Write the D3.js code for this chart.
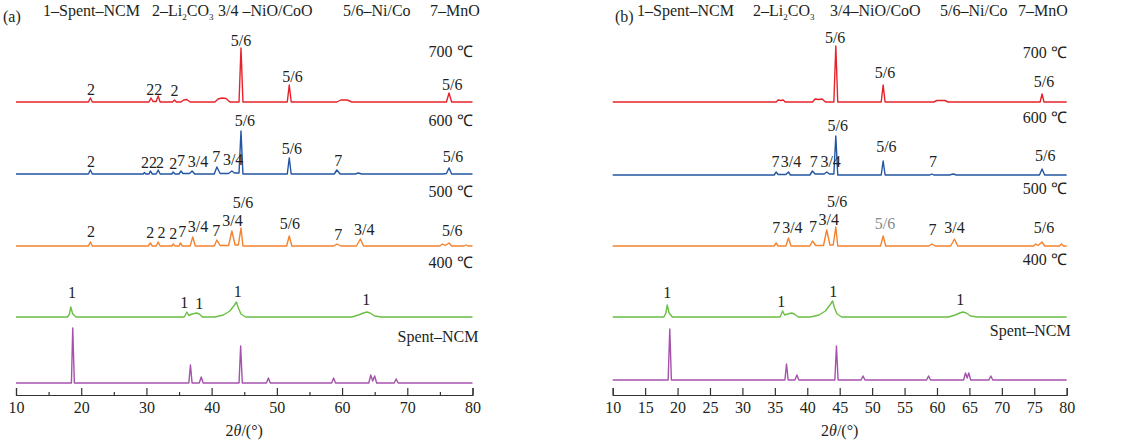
<!DOCTYPE html>
<html>
<head>
<meta charset="utf-8">
<script src="https://cdn.jsdelivr.net/npm/d3@7"></script>
<style>
  body { margin: 0; background: #fff; }
  text { font-family: "Liberation Serif", "Times New Roman", serif; fill: #231f20; }
</style>
</head>
<body>
<div id="chart"></div>
<script>
// XRD patterns, [2theta, intensity a.u.] vertices
var redA = [[10,0],[21.1,0],[21.4,4],[21.7,0],[30.4,0],[30.7,4],[31.0,0.5],[31.5,0.5],[31.8,6],[32.1,0],
  [34.0,0],[34.3,2],[34.6,0],[35.3,0],[35.7,2],[36.2,2.5],[36.7,0],[40.5,0],[41.0,3],[41.6,4],[42.2,3.5],[42.8,0],
  [44.2,0],[44.5,54],[44.8,0],[51.6,0],[51.9,17],[52.2,0],[59.2,0],[59.8,2],[60.8,2],[61.5,0],
  [76.0,0],[76.4,9],[76.8,0],[80,0]];
var blueA = [[10,0],[21.1,0],[21.4,4],[21.7,0],[29.5,0],[29.7,1.5],[29.9,0],[30.4,0],[30.6,3],[30.9,0],[31.5,0],[31.8,4],[32.1,0],
  [33.9,0],[34.1,2],[34.4,0],[35.0,0],[35.3,3],[35.6,0.5],[36.6,0.5],[37.0,3],[37.4,0],
  [40.4,0],[40.8,7],[41.3,0.5],[42.6,0.5],[43.1,3],[43.5,1],[44.2,1],[44.5,43],[44.8,0],
  [51.6,0],[51.9,16],[52.2,0],[58.8,0],[59.2,4],[59.7,0],[62.0,0],[62.5,1],[63.0,0],
  [75.5,0],[76.0,0.5],[76.4,6],[76.8,0],[80,0]];
var orangeA = [[10,0],[21.1,0],[21.4,4],[21.7,0],[30.3,0],[30.6,3],[30.9,0],[31.5,0],[31.8,4],[32.1,0],
  [33.9,0],[34.1,2],[34.4,0],[35.0,0],[35.2,3],[35.5,0],[36.7,0],[37.1,9],[37.5,0],
  [40.4,0],[40.8,6],[41.3,0.5],[42.6,0.5],[43.1,15],[43.6,1],[44.1,1],[44.5,18],[44.8,0],
  [51.5,0],[51.9,10],[52.3,0],[58.7,0],[59.2,2],[59.8,0],[62.2,0],[62.8,7],[63.3,0],
  [75.0,0],[75.4,2],[75.8,0.5],[76.4,3],[76.8,0],[78.7,0],[79.0,1],[79.3,0],[80,0]];
var greenA = [[10,0],[17.9,0],[18.2,3],[18.4,10],[18.7,3],[19.2,0],
  [35.8,0],[36.2,5],[36.5,1.5],[37.0,3],[37.7,4],[38.1,3],[38.6,0],
  [40.5,0],[41.8,2],[42.8,6],[43.5,12],[43.8,15],[44.1,9],[44.5,3],[45.2,0],
  [61.5,0],[62.5,2],[63.3,4],[63.8,5],[64.3,4],[65.0,1],[66,0],[80,0]];
var purpleA = [[10,0],[18.5,0],[18.7,55],[18.95,0],[36.5,0],[36.75,18],[37.0,0],[38.1,0],[38.4,6],[38.7,0],
  [44.2,0],[44.45,37],[44.7,0],[48.4,0],[48.7,5],[49.0,0],[58.4,0],[58.7,5],[59.0,0],
  [64.1,0],[64.4,8],[64.7,2],[65.0,7],[65.3,0],[68.0,0],[68.3,4],[68.6,0],[80,0]];

var redB = [[10,0],[35.2,0],[35.5,2],[35.9,1.5],[36.3,2],[36.6,0],[40.8,0],[41.2,3],[41.8,2.5],[42.3,3],[42.8,0],
  [44.1,0],[44.4,56],[44.7,0],[51.4,0],[51.7,17],[52.0,0],[59.5,0],[60.0,1.5],[61.2,1.5],[61.7,0],
  [75.9,0],[76.2,8],[76.5,0],[80,0]];
var blueB = [[10,0],[34.9,0],[35.2,3],[35.5,0.5],[36.7,0.5],[37.1,3],[37.4,0],
  [40.4,0],[40.8,4],[41.2,1],[42.6,1],[43.0,3],[43.4,1],[44.1,1],[44.4,39],[44.7,0],
  [51.4,0],[51.7,14],[52.0,0],[58.9,0],[59.2,1],[59.5,0],[61.9,0],[62.5,1],[63.0,0],
  [75.8,0],[76.2,6],[76.6,0],[80,0]];
var orangeB = [[10,0],[34.9,0],[35.2,3],[35.5,0],[36.7,0],[37.1,8],[37.5,0],
  [40.4,0],[40.8,5],[41.3,0.5],[42.5,0.5],[43.0,16],[43.5,1],[44.0,1],[44.4,19],[44.7,0],
  [51.3,0],[51.7,10],[52.1,0],[58.8,0],[59.2,2],[59.7,0],[62.1,0],[62.7,7],[63.2,0],
  [74.9,0],[75.2,2],[75.6,0.5],[76.2,4],[76.6,0],[78.9,0],[79.2,2],[79.5,0],[80,0]];
var greenB = [[10,0],[17.9,0],[18.2,4],[18.4,12],[18.7,4],[19.2,0],
  [35.8,0],[36.2,6],[36.5,2],[37.0,3],[37.6,4],[38.0,3],[38.6,0],
  [40.5,0],[41.8,2],[42.8,6],[43.6,13],[43.9,16],[44.2,9],[44.6,3],[45.3,0],
  [61.8,0],[62.8,2],[63.5,4],[64.0,5],[64.5,4],[65.2,1],[66.2,0],[80,0]];
var purpleB = [[10,0],[18.55,0],[18.8,51],[19.05,0],[36.55,0],[36.8,16],[37.05,0],[38.1,0],[38.4,5],[38.7,0],
  [44.25,0],[44.5,34],[44.75,0],[48.3,0],[48.6,4],[48.9,0],[58.4,0],[58.7,4],[59.0,0],
  [64.1,0],[64.4,7],[64.65,2],[64.9,7],[65.2,0],[68.0,0],[68.3,4],[68.6,0],[80,0]];

// peak labels: [2theta, label, height above the trace baseline]
var redLabelsA = [[21.5,"2",7],[30.6,"2",7],[31.8,"2",7],[34.3,"2",6],[44.5,"5/6",56],[52.4,"5/6",20],[76.9,"5/6",12]];
var blueLabelsA = [[21.5,"2",7],[29.8,"2",6],[31.0,"2",6],[32.1,"2",6],[34.1,"2",5],[35.3,"7",8],[37.9,"3/4",7],
  [40.7,"7",12],[43.3,"3/4",9],[45.1,"5/6",48],[52.3,"5/6",20],[59.4,"7",8],[77.0,"5/6",12]];
var orangeLabelsA = [[21.5,"2",9],[30.6,"2",8],[32.3,"2",8],[34.1,"2",7],[35.5,"7",9],[37.9,"3/4",14],[40.7,"7",10],
  [43.2,"3/4",20],[44.8,"5/6",38],[52.0,"5/6",17],[59.4,"7",6],[63.4,"3/4",11],[76.9,"5/6",10]];
var greenLabelsA = [[18.6,"1",19],[35.8,"1",9],[38.1,"1",8],[44.0,"1",20],[63.7,"1",12]];

var redLabelsB = [[44.3,"5/6",59],[52.0,"5/6",24],[76.5,"5/6",15]];
var blueLabelsB = [[35.1,"7",8],[37.5,"3/4",8],[41.0,"7",8],[43.6,"3/4",8],[44.7,"5/6",44],[52.2,"5/6",23],[59.4,"7",8],[76.7,"5/6",14]];
var orangeLabelsB = [[35.2,"7",13],[37.7,"3/4",13],[40.9,"7",14],[43.3,"3/4",21],[44.6,"5/6",39],[52.0,"5/6",17,"#8a8a8a"],
  [59.3,"7",11],[62.7,"3/4",13],[76.5,"5/6",13]];
var greenLabelsB = [[18.4,"1",19],[36.0,"1",10],[44.0,"1",20],[63.6,"1",12]];

var sampleNames = ["700 ℃", "600 ℃", "500 ℃", "400 ℃", "Spent–NCM"];
var legendItems = ["1–Spent–NCM", "2–Li2CO3", "3/4 –NiO/CoO", "5/6–Ni/Co", "7–MnO"];
var colors = ["#e8222b", "#2356a3", "#f5822f", "#6abf45", "#a552ad"];

var svgWidth = 1124, svgHeight = 444;
var axisY = 395;

var svg = d3.select("#chart").append("svg").attr("width", svgWidth).attr("height", svgHeight);

// 1 a.u. == 1 px, each trace is lifted by its offset
var y = d3.scaleLinear().domain([0, 360]).range([axisY, axisY - 360]);

function drawPanel(p) {
  var x = d3.scaleLinear().domain([10, 80]).range([p.x0, p.x1]);
  var g = svg.append("g");

  var line = d3.line().x(d => x(d[0]));

  p.series.forEach(function(s, i) {
    var off = p.offsets[i];
    g.append("path")
      .datum(s)
      .attr("fill", "none")
      .attr("stroke", colors[i])
      .attr("stroke-width", 1.4)
      .attr("stroke-linejoin", "round")
      .attr("d", line.y(d => y(d[1] + off)));
  });

  // peak labels
  p.labels.forEach(function(lab, i) {
    var off = p.offsets[i];
    g.selectAll(null).data(lab).enter().append("text")
      .attr("x", d => x(d[0]))
      .attr("y", d => y(off + d[2]))
      .attr("text-anchor", "middle")
      .attr("font-size", 16)
      .style("fill", d => d[3] || "#231f20")
      .text(d => d[1]);
  });

  // sample names on the right
  sampleNames.forEach(function(name, i) {
    g.append("text")
      .attr("x", x(80) + (i == 4 ? p.nameShift : 0))
      .attr("y", y(p.offsets[i] + p.nameH[i]))
      .attr("text-anchor", "end")
      .attr("font-size", 16)
      .text(name);
  });

  // x axis, ticks pointing up
  var axis = d3.axisBottom(x).tickValues(p.ticks).tickSizeInner(-7).tickSizeOuter(-7).tickPadding(7);
  var ax = g.append("g").attr("transform", `translate(0, ${axisY})`).call(axis);
  ax.selectAll("path, line").attr("stroke", "#333").attr("stroke-width", 1.2);
  ax.selectAll("text").attr("font-size", 16).attr("font-family", "Liberation Serif, serif").style("fill", "#231f20");
  if (p.minor) {
    var minorAxis = d3.axisBottom(x).tickValues(p.minor).tickSize(-3).tickFormat("");
    var mx = g.append("g").attr("transform", `translate(0, ${axisY})`).call(minorAxis);
    mx.select(".domain").remove();
    mx.selectAll("line").attr("stroke", "#333").attr("stroke-width", 1.2);
  }

  var title = g.append("text")
    .attr("x", (p.x0 + p.x1) / 2)
    .attr("y", 436)
    .attr("text-anchor", "middle")
    .attr("font-size", 16);
  title.append("tspan").text("2");
  title.append("tspan").attr("font-style", "italic").text("θ");
  title.append("tspan").text("/(°)");

  // panel tag + legend
  g.append("text").attr("x", p.tagX).attr("y", 22).attr("font-size", 16).text(p.tag);
  legendItems.forEach(function(item, i) {
    var t = g.append("text").attr("x", p.legendX[i]).attr("y", 16).attr("font-size", 16);
    var txt = (p.tag == "(b)" && i == 2) ? item.replace(" ", "") : item;
    if (txt.indexOf("Li2CO3") >= 0) {
      t.append("tspan").text("2–Li");
      t.append("tspan").attr("font-size", 9).attr("dy", 4).text("2");
      t.append("tspan").attr("dy", -4).text("CO");
      t.append("tspan").attr("font-size", 9).attr("dy", 4).text("3");
    } else {
      t.text(txt);
    }
  });
}

drawPanel({
  tag: "(a)", tagX: 3, x0: 16, x1: 472.5,
  series: [redA, blueA, orangeA, greenA, purpleA],
  labels: [redLabelsA, blueLabelsA, orangeLabelsA, greenLabelsA],
  offsets: [293, 221, 149, 78, 12],
  nameH: [45, 48, 49, 49, 41], nameShift: 6,
  ticks: d3.range(10, 81, 10), minor: d3.range(15, 80, 10),
  legendX: [43, 152, 218, 343, 430]
});

drawPanel({
  tag: "(b)", tagX: 615, x0: 612.7, x1: 1066.7,
  series: [redB, blueB, orangeB, greenB, purpleB],
  labels: [redLabelsB, blueLabelsB, orangeLabelsB, greenLabelsB],
  offsets: [293, 220, 149, 78, 15],
  nameH: [44, 52, 52, 52, 44], nameShift: 4,
  ticks: d3.range(10, 81, 5), minor: null,
  legendX: [637, 753, 830, 940, 1018]
});
</script>
</body>
</html>
